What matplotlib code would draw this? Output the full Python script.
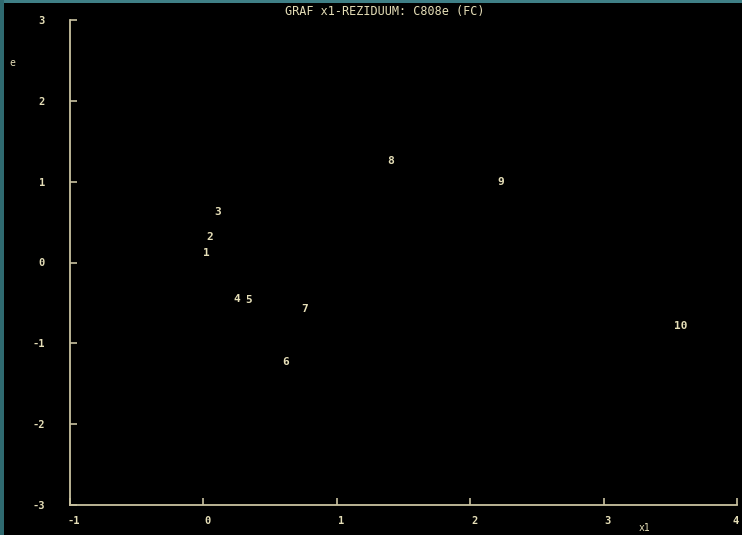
import matplotlib
matplotlib.use("Agg")
import matplotlib.pyplot as plt
import matplotlib.transforms as mtransforms
from matplotlib.patches import Rectangle

# residuals e vs x1, points labelled by observation number
obs_labels = ["1", "2", "3", "4", "5", "6", "7", "8", "9", "10"]
x1_vals = [0.02, 0.05, 0.11, 0.25, 0.34, 0.62, 0.76, 1.40, 2.23, 3.58]
e_vals = [0.12, 0.31, 0.63, -0.45, -0.46, -1.23, -0.58, 1.25, 1.00, -0.78]

x_ticks = [-1, 0, 1, 2, 3, 4]
y_ticks = [-3, -2, -1, 0, 1, 2, 3]

TXT = "#e6dfb8"
AXC = "#c9c2a0"
FONT = "DejaVu Sans Mono"

fig = plt.figure(figsize=(7.42, 5.35), dpi=100, facecolor="black")
ax = fig.add_axes([70 / 742, 30 / 535, 667 / 742, 485 / 535])
ax.set_facecolor("black")
ax.set_xlim(-1, 4)
ax.set_ylim(-3, 3)

for side in ["top", "right"]:
    ax.spines[side].set_visible(False)
for side in ["left", "bottom"]:
    ax.spines[side].set_color(AXC)
    ax.spines[side].set_linewidth(1.3)

ax.set_xticks(x_ticks)
ax.set_yticks(y_ticks)
ax.set_xticklabels([str(v) for v in x_ticks])
ax.set_yticklabels([str(v) for v in y_ticks])
ax.tick_params(axis="both", direction="in", length=5, width=1.2, color=AXC,
               labelcolor=TXT, labelsize=7.5)
ax.tick_params(axis="x", pad=8)
ax.tick_params(axis="y", pad=18)
for lab in ax.get_xticklabels() + ax.get_yticklabels():
    lab.set_fontfamily(FONT)
    lab.set_fontweight("bold")
# x labels sit a little right of their ticks; the last one stays inside the frame
xlabs = ax.get_xticklabels()
for i, lab in enumerate(xlabs):
    dx = 4 if i < len(xlabs) - 1 else -1
    lab.set_transform(lab.get_transform()
                      + mtransforms.ScaledTranslation(dx / 100, 0, fig.dpi_scale_trans))

for lab, x, y in zip(obs_labels, x1_vals, e_vals):
    ax.text(x, y, lab, ha="center", va="center", color=TXT, fontsize=8,
            fontfamily=FONT, fontweight="bold")

fig.text(385 / 742, 1 - 12 / 535, "GRAF x1-REZIDUUM: C808e (FC)", ha="center",
         va="center", color=TXT, fontsize=8.5, fontfamily=FONT)
fig.text(645 / 742, 1 - 528 / 535, "x1", ha="center", va="center", color=TXT,
         fontsize=7, fontfamily=FONT)
fig.text(12 / 742, 1 - 63 / 535, "e", ha="center", va="center", color=TXT,
         fontsize=7, fontfamily=FONT)

# window frame
fig.add_artist(Rectangle((0, 1 - 3 / 535), 1, 3 / 535, transform=fig.transFigure,
                         color="#3f7f86", lw=0))
fig.add_artist(Rectangle((0, 0), 4 / 742, 1, transform=fig.transFigure,
                         color="#2f6a70", lw=0))

fig.savefig("out.png", dpi=100, facecolor="black")
